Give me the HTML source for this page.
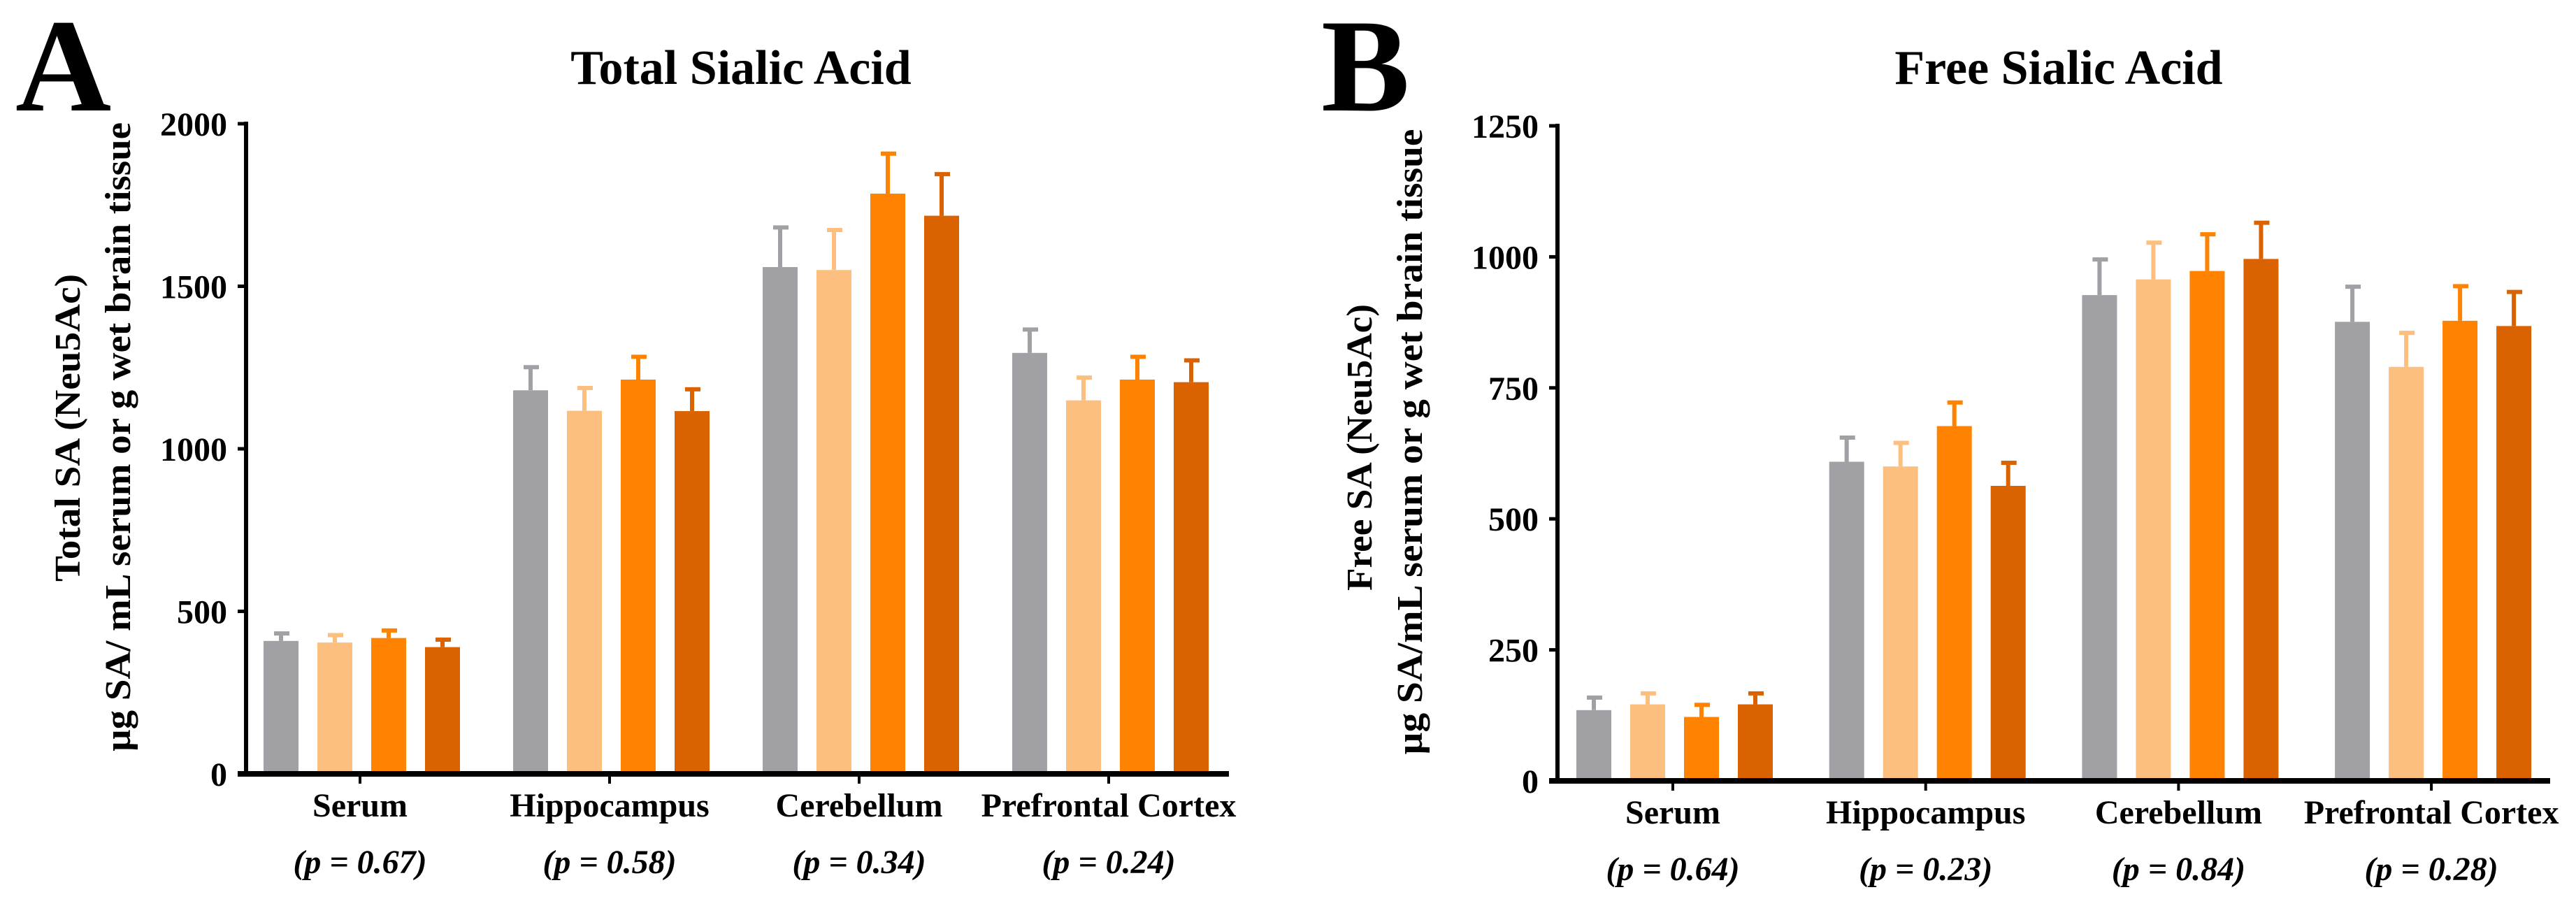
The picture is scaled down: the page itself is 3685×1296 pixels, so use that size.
<!DOCTYPE html>
<html><head><meta charset="utf-8"><style>
html,body{margin:0;padding:0;background:#fff;}
svg{display:block;font-family:"Liberation Serif",serif;font-weight:bold;}
</style></head><body>
<svg id="fig" width="3685" height="1296" viewBox="0 0 3685 1296" xmlns="http://www.w3.org/2000/svg">
<rect width="3685" height="1296" fill="#fff"/>
</svg>
<script>
const categories = ["Serum", "Hippocampus", "Cerebellum", "Prefrontal Cortex"];
const groupNames = ["control", "group-1", "group-2", "group-3"];
const totalValues = [[409, 404, 418, 390], [1180, 1117, 1213, 1116], [1559, 1550, 1785, 1717], [1295, 1149, 1213, 1205]];
const totalErrTops = [[432, 427, 441, 413], [1251, 1187, 1283, 1183], [1681, 1673, 1908, 1845], [1367, 1219, 1283, 1272]];
const totalPValues = ["(p = 0.67)", "(p = 0.58)", "(p = 0.34)", "(p = 0.24)"];
const totalTicks = [0, 500, 1000, 1500, 2000];
const freeValues = [[135, 146, 122, 146], [609, 600, 677, 563], [927, 957, 973, 996], [876, 790, 878, 868]];
const freeErrTops = [[159, 167, 145, 167], [655, 645, 722, 607], [995, 1027, 1043, 1065], [943, 855, 944, 933]];
const freePValues = ["(p = 0.64)", "(p = 0.23)", "(p = 0.84)", "(p = 0.28)"];
const freeTicks = [0, 250, 500, 750, 1000, 1250];
const colors = ["#a1a0a5", "#fdbf7f", "#ff8200", "#db6200"];

const NS = "http://www.w3.org/2000/svg";
const svg = document.getElementById("fig");
function mk(tag, attrs, parent, text) {
  const e = document.createElementNS(NS, tag);
  for (const k in attrs) e.setAttribute(k, attrs[k]);
  if (text !== undefined) e.textContent = text;
  (parent || svg).appendChild(e);
  return e;
}

function panel(cfg) {
  const g = mk("g", {});
  
  
  const yScale = v => cfg.y0 - (v / cfg.max) * (cfg.y0 - cfg.yTop);
  const xCenter = i => cfg.x0 + cfg.firstTick + i * cfg.step;

  const letter = mk("text", {x: cfg.letterX, y: cfg.letterY, "font-size": 190, "font-family": "Liberation Serif, serif", "font-weight": "bold"}, g, cfg.letter);
  
  

  const title = mk("text", {x: cfg.titleX, y: 120, "font-size": 70, "text-anchor": "middle"}, g, cfg.title);
  
  

  const yl = mk("text", {transform: `translate(${cfg.yl1X},${cfg.yl1Y}) rotate(-90)`, "font-size": 52, "text-anchor": "middle", textLength: cfg.yl1Len, lengthAdjust: "spacingAndGlyphs"}, g, cfg.ylabel1);
  
  
  const yl2 = mk("text", {transform: `translate(${cfg.yl2X},${cfg.ylY}) rotate(-90)`, "font-size": 52, "text-anchor": "middle", textLength: cfg.yl2Len, lengthAdjust: "spacingAndGlyphs"}, g, cfg.ylabel2);
  
  

  cfg.values.forEach((vals, ci) => {
    vals.forEach((v, si) => {
      const cx = xCenter(ci) + cfg.barOff + si * cfg.pitch;
      const yv = yScale(v);
      const r = mk("rect", {x: cx - cfg.barW / 2, y: yv, width: cfg.barW, height: cfg.y0 - yv, fill: colors[si]}, g);
      
      
      const ye = yScale(cfg.errs[ci][si]);
      const el = mk("path", {d: `M${cx},${yv} V${ye} M${cx - 10},${ye} H${cx + 12}`, stroke: colors[si], "stroke-width": 6, fill: "none"}, g);
      
      
    });
  });

  const ya = mk("line", {x1: cfg.x0, y1: cfg.yTop - 3, x2: cfg.x0, y2: cfg.y0 + 3, stroke: "#000", "stroke-width": 6}, g);
  
  
  const xa = mk("line", {x1: cfg.x0 - 12, y1: cfg.y0, x2: cfg.xEnd, y2: cfg.y0, stroke: "#000", "stroke-width": 8}, g);
  
  

  cfg.ticks.forEach(t => {
    const y = yScale(t);
    const tk = mk("line", {x1: cfg.x0 - 12, y1: y, x2: cfg.x0, y2: y, stroke: "#000", "stroke-width": 5}, g);
    
    
    const tl = mk("text", {x: cfg.x0 - 27, y: y + 17, "font-size": 48, "text-anchor": "end"}, g, String(t));
    
    
  });

  categories.forEach((c, i) => {
    const x = xCenter(i);
    const tk = mk("line", {x1: x, y1: cfg.y0, x2: x, y2: cfg.y0 + 14, stroke: "#000", "stroke-width": 4}, g);
    
    
    const lb = mk("text", {x: x, y: cfg.y0 + 61, "font-size": 48, "text-anchor": "middle"}, g, c);
    
    
    const pv = mk("text", {x: x, y: cfg.y0 + 142, "font-size": 48, "font-style": "italic", "text-anchor": "middle"}, g, cfg.pvals[i]);
    
    
  });
}

panel({name: "panel-a-total-sialic-acid", letter: "A", letterX: 22, letterY: 158,
  title: "Total Sialic Acid", titleX: 1060,
  ylabel1: "Total SA (Neu5Ac)", ylabel2: "\u00b5g SA/ mL serum or g wet brain tissue",
  yl1X: 114, yl2X: 186, ylY: 625, yl1Y: 612, yl1Len: 440, yl2Len: 900,
  x0: 352, xEnd: 1758, y0: 1107, yTop: 177, max: 2000,
  firstTick: 163, step: 357, barOff: -113, pitch: 77, barW: 50,
  values: totalValues, errs: totalErrTops, ticks: totalTicks, pvals: totalPValues});

panel({name: "panel-b-free-sialic-acid", letter: "B", letterX: 1890, letterY: 158,
  title: "Free Sialic Acid", titleX: 2945,
  ylabel1: "Free SA (Neu5Ac)", ylabel2: "\u00b5g SA/mL serum or g wet brain tissue",
  yl1X: 1962, yl2X: 2034, ylY: 632, yl1Y: 640, yl1Len: 410, yl2Len: 895,
  x0: 2228, xEnd: 3648, y0: 1117, yTop: 180, max: 1250,
  firstTick: 165, step: 361.7, barOff: -113, pitch: 77, barW: 50,
  values: freeValues, errs: freeErrTops, ticks: freeTicks, pvals: freePValues});
</script>
</body></html>
